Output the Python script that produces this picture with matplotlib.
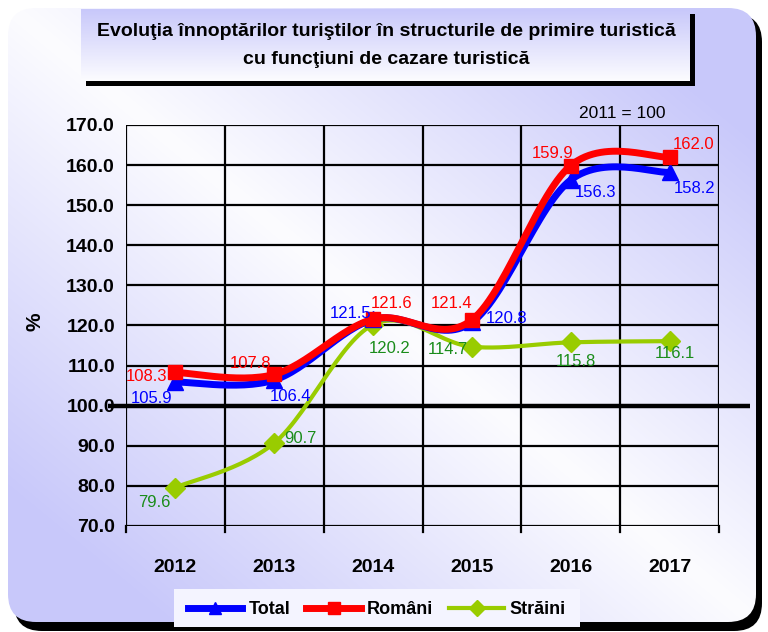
import numpy as np
import matplotlib
matplotlib.use("Agg")
import matplotlib.pyplot as plt
from matplotlib.patches import FancyBboxPatch, Rectangle
from matplotlib.lines import Line2D
from matplotlib import font_manager as fm

# ---------------- data ----------------
years = ["2012", "2013", "2014", "2015", "2016", "2017"]
total = [105.9, 106.4, 121.5, 120.8, 156.3, 158.2]
romani = [108.3, 107.8, 121.6, 121.4, 159.9, 162.0]
straini = [79.6, 90.7, 120.2, 114.7, 115.8, 116.1]
yticks = [70, 80, 90, 100, 110, 120, 130, 140, 150, 160, 170]
series_names = ["Total", "Români", "Străini"]
title_lines = ["Evoluţia înnoptărilor turiştilor în structurile de primire turistică",
               "cu funcţiuni de cazare turistică"]
base_note = "2011 = 100"

# label offsets in points (style, not data)
off_total = [(-17, -12), (12, -12), (-16, 4), (25, 3), (18, -9), (18, -12)]
off_rom = [(-21, -3), (-17, 8), (13, 11), (-15, 12), (-13, 9), (17, 9)]
off_str = [(-15, -11), (19, 3), (12, -17), (-17, -2), (4, -14), (4, -9)]

names = {f.name for f in fm.fontManager.ttflist}
NARROW = "Liberation Sans Narrow" if "Liberation Sans Narrow" in names else "Liberation Sans"
REG = "Liberation Sans"

W, H = 768, 632
fig = plt.figure(figsize=(W / 100, H / 100), dpi=100)
fig.patch.set_facecolor("white")

# ---------- background with rounded rect and gradient ----------
bg = fig.add_axes([0, 0, 1, 1])
bg.set_xlim(0, W)
bg.set_ylim(H, 0)
bg.axis("off")
lav = np.array([200, 200, 250]) / 255.0
wht = np.array([252, 252, 255]) / 255.0
yy, xx = np.mgrid[0:H, 0:W]
u = np.abs(xx / W - yy / H)
u = np.clip(u * 1.3, 0, 1)
img = wht[None, None, :] * (1 - u[..., None]) + lav[None, None, :] * u[..., None]
shadow = FancyBboxPatch((14, 14), W - 14 - 6, H - 14 - 1,
                        boxstyle="round,pad=0,rounding_size=28",
                        facecolor="black", edgecolor="none", zorder=0)
bg.add_patch(shadow)
clip = FancyBboxPatch((8, 8), W - 14 - 6, H - 14 - 4,
                      boxstyle="round,pad=0,rounding_size=28",
                      facecolor="none", edgecolor="none", zorder=1)
bg.add_patch(clip)
im = bg.imshow(img, extent=(0, W, H, 0), zorder=1, aspect="auto")
im.set_clip_path(clip)

# title box with shadow and vertical gradient
bg.add_patch(Rectangle((86, 14), 609, 72, facecolor="black", edgecolor="none", zorder=2))
tg = np.linspace(0, 1, 100)[:, None]
tb = lav[None, None, :] * (1 - tg[..., None]) + wht[None, None, :] * tg[..., None]
tb = np.repeat(tb, 2, axis=1)
bg.imshow(tb, extent=(81, 690, 81, 9), zorder=3, aspect="auto")
bg.text(386, 31, title_lines[0], ha="center", va="center", fontsize=14,
        fontweight="bold", family=[NARROW, "DejaVu Sans"], zorder=4)
bg.text(386, 59, title_lines[1], ha="center", va="center", fontsize=14,
        fontweight="bold", family=[NARROW, "DejaVu Sans"], zorder=4)

# ---------- main plot ----------
L, R, T, B = 126, 719, 125, 526
ax = fig.add_axes([L / W, 1 - B / H, (R - L) / W, (B - T) / H])
ax.patch.set_alpha(0)
ax.set_xlim(-0.5, len(years) - 0.5)
ax.set_ylim(70, 170)
x = np.arange(len(years))


def smooth(xs, ys, n=30):
    xs = np.asarray(xs, float)
    ys = np.asarray(ys, float)
    P = np.column_stack([xs, ys])
    P = np.vstack([P[0], P, P[-1]])
    out = []
    for i in range(1, len(P) - 2):
        p0, p1, p2, p3 = P[i - 1], P[i], P[i + 1], P[i + 2]
        c1 = p1 + (p2 - p0) / 6.0
        c2 = p2 - (p3 - p1) / 6.0
        t = np.linspace(0, 1, n)[:, None]
        seg = ((1 - t) ** 3) * p1 + 3 * ((1 - t) ** 2) * t * c1 + 3 * (1 - t) * t ** 2 * c2 + t ** 3 * p2
        out.append(seg if i == 1 else seg[1:])
    s = np.vstack(out)
    return s[:, 0], s[:, 1]


for yv in yticks:
    if yv != 100:
        ax.axhline(yv, color="black", lw=1.6, zorder=1)
for k in range(len(years) + 1):
    ax.axvline(k - 0.5, color="black", lw=1.6, zorder=1)
# thick baseline at 100 extending beyond axes
bg.plot([108, 750], [B - (100 - 70) / 100 * (B - T)] * 2, color="black", lw=3.2, zorder=6,
        solid_capstyle="butt")

for s in ax.spines.values():
    s.set_visible(False)

blue, red, green = "#0000FF", "#FF0000", "#99CC00"
lab_green = "#1A8C1A"

sx, sy = smooth(x, straini)
ax.plot(sx, sy, color=green, lw=3, zorder=3)
ax.plot(x, straini, ls="none", marker="D", ms=10, color=green, zorder=4)
sx, sy = smooth(x, total)
ax.plot(sx, sy, color=blue, lw=5, zorder=5)
ax.plot(x, total, ls="none", marker="^", ms=11, color=blue, zorder=6)
sx, sy = smooth(x, romani)
ax.plot(sx, sy, color=red, lw=5, zorder=7)
ax.plot(x, romani, ls="none", marker="s", ms=10, color=red, zorder=8)

lab_font = dict(fontsize=12, family=[NARROW, "DejaVu Sans"])
for vals, offs, col in [(total, off_total, blue), (romani, off_rom, red), (straini, off_str, lab_green)]:
    for xi, v, o in zip(x, vals, offs):
        ax.annotate(f"{v:.1f}", (xi, v), xytext=o, textcoords="offset points",
                    ha="center", va="center", color=col, zorder=10, **lab_font)

ax.set_yticks(yticks)
ax.set_yticklabels([f"{v:.1f}" for v in yticks], fontsize=14, fontweight="bold",
                   family=[NARROW, "DejaVu Sans"])
ax.tick_params(axis="y", length=0, pad=8)
ax.set_xticks(x)
ax.set_xticklabels(years, fontsize=14, fontweight="bold", family=[NARROW, "DejaVu Sans"])
ax.tick_params(axis="x", length=0, pad=24)
for k in range(len(years) + 1):
    ax.plot([k - 0.5, k - 0.5], [70, 68.5], color="black", lw=1.6, clip_on=False, zorder=1)

fig.text(35 / W, 1 - 322 / H, "%", rotation=90, ha="center", va="center", fontsize=15,
         fontweight="bold", family=[REG, "DejaVu Sans"])
fig.text(622 / W, 1 - 113 / H, base_note, ha="center", va="center", fontsize=12.5,
         family=[NARROW, "DejaVu Sans"])

# legend
bg.add_patch(Rectangle((174, 589), 406, 38, facecolor="#f4f4ff", edgecolor="none", zorder=5))
handles = [Line2D([], [], color=blue, lw=5, marker="^", ms=9),
           Line2D([], [], color=red, lw=5, marker="s", ms=8),
           Line2D([], [], color=green, lw=3, marker="D", ms=8)]
leg = fig.legend(handles, series_names, loc="center", bbox_to_anchor=(377 / W, 1 - 610 / H),
                 ncol=3, frameon=False, handlelength=3.0, columnspacing=0.9, handletextpad=0.35,
                 prop=fm.FontProperties(family=[NARROW, "DejaVu Sans"], weight="bold", size=13))

fig.savefig("out.png", dpi=100)
